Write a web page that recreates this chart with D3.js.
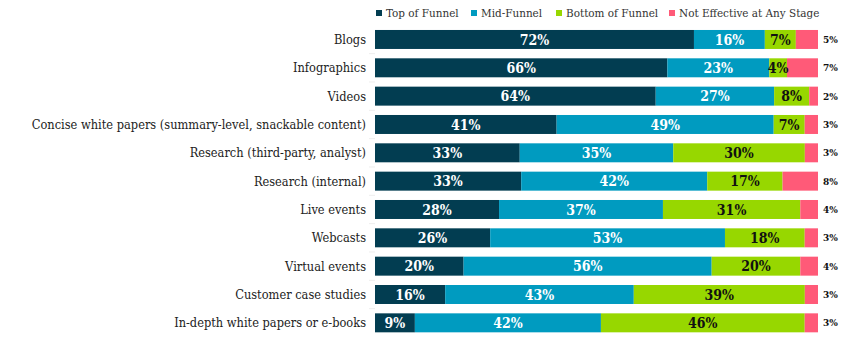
<!DOCTYPE html>
<html>
<head>
<meta charset="utf-8">
<script src="https://cdn.jsdelivr.net/npm/d3@7"></script>
<style>
  body { margin: 0; background: #fff; }
  text { font-family: "DejaVu Serif", serif; font-stretch: condensed; }
</style>
</head>
<body>
<div id="chart"></div>
<script>
// data
var categories = ["Blogs", "Infographics", "Videos",
    "Concise white papers (summary-level, snackable content)",
    "Research (third-party, analyst)", "Research (internal)", "Live events",
    "Webcasts", "Virtual events", "Customer case studies",
    "In-depth white papers or e-books"];
var seriesNames = ["Top of Funnel", "Mid-Funnel", "Bottom of Funnel", "Not Effective at Any Stage"];
var topFunnel = [72, 66, 64, 41, 33, 33, 28, 26, 20, 16, 9];
var midFunnel = [16, 23, 27, 49, 35, 42, 37, 53, 56, 43, 42];
var bottomFunnel = [7, 4, 8, 7, 30, 17, 31, 18, 20, 39, 46];
var notEffective = [5, 7, 2, 3, 3, 8, 4, 3, 4, 3, 3];
var colors = ["#023d51", "#009bc0", "#97d700", "#ff5a78"];

var width = 852, height = 338;
var margin = { left: 375, right: 34 };

var svg = d3.select("#chart")
    .append("svg")
    .attr("width", width)
    .attr("height", height);

var rows = categories.map(function (c, i) {
    return { cat: c, s0: topFunnel[i], s1: midFunnel[i], s2: bottomFunnel[i], s3: notEffective[i] };
});
var keys = ["s0", "s1", "s2", "s3"];

// each row fills the full width
var stack = d3.stack().keys(keys).offset(d3.stackOffsetExpand);
var series = stack(rows);

var x = d3.scaleLinear()
    .domain([0, 1])
    .range([margin.left, width - margin.right]);

var y = d3.scaleBand()
    .domain(categories)
    .range([25.3, 337])
    .paddingInner(0.33)
    .paddingOuter(0.165);

// faint row separators on the left
svg.append("g")
    .selectAll("line")
    .data(categories.slice(1))
    .enter()
    .append("line")
    .attr("x1", x(0) - 6)
    .attr("x2", x(0))
    .attr("y1", function (d) { return y(d) - y.step() * 0.165; })
    .attr("y2", function (d) { return y(d) - y.step() * 0.165; })
    .attr("stroke", "#eee");

// category labels
svg.append("g")
    .selectAll("text")
    .data(categories)
    .enter()
    .append("text")
    .attr("x", x(0) - 9)
    .attr("y", function (d) { return y(d) + y.bandwidth() / 2; })
    .attr("dy", "0.35em")
    .attr("text-anchor", "end")
    .style("font-size", "12.7px")
    .style("fill", "#222")
    .text(function (d) { return d; });

// bars
var groups = svg.append("g")
    .selectAll("g")
    .data(series)
    .enter()
    .append("g")
    .attr("fill", function (d, i) { return colors[i]; });

groups.selectAll("rect")
    .data(function (d) { return d; })
    .enter()
    .append("rect")
    .attr("x", function (d) { return x(d[0]); })
    .attr("width", function (d) { return x(d[1]) - x(d[0]); })
    .attr("y", function (d) { return y(d.data.cat); })
    .attr("height", y.bandwidth());

// value labels inside bars (first three segments)
series.forEach(function (s, i) {
    if (i == 3) return;
    svg.append("g")
        .selectAll("text")
        .data(s)
        .enter()
        .append("text")
        .attr("x", function (d) { return (x(d[0]) + x(d[1])) / 2; })
        .attr("y", function (d) { return y(d.data.cat) + y.bandwidth() / 2; })
        .attr("dy", "0.36em")
        .attr("text-anchor", "middle")
        .style("font-size", "14px")
        .style("font-weight", "bold")
        .style("fill", i == 2 ? "#111" : "#fff")
        .text(function (d) { return d.data[keys[i]] + "%"; });
});

// not effective labels outside
svg.append("g")
    .selectAll("text")
    .data(series[3])
    .enter()
    .append("text")
    .attr("x", x(1) + 5)
    .attr("y", function (d) { return y(d.data.cat) + y.bandwidth() / 2; })
    .attr("dy", "0.35em")
    .style("font-size", "10px")
    .style("font-weight", "bold")
    .style("fill", "#111")
    .text(function (d) { return d.data.s3 + "%"; });

// legend
var legendX = [376, 471, 556, 669];
var legend = svg.append("g")
    .selectAll("g")
    .data(seriesNames)
    .enter()
    .append("g")
    .attr("transform", function (d, i) { return "translate(" + legendX[i] + ",13)"; });

legend.append("rect")
    .attr("x", 0)
    .attr("y", -3)
    .attr("width", 6)
    .attr("height", 6)
    .attr("fill", function (d, i) { return colors[i]; });

legend.append("text")
    .attr("x", 10)
    .attr("dy", "0.35em")
    .style("font-size", "11.6px")
    .style("fill", "#333")
    .text(function (d) { return d; });
</script>
</body>
</html>
